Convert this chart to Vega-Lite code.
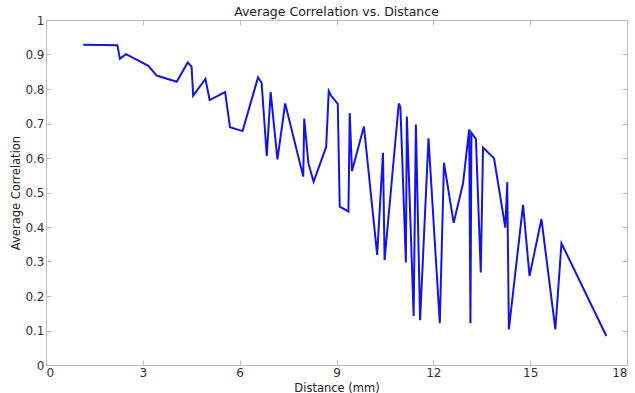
{
  "$schema": "https://vega.github.io/schema/vega-lite/v6.json",
  "autosize": "none",
  "width": 581,
  "height": 345,
  "padding": {"left": 46, "top": 20, "right": 8, "bottom": 28},
  "background": "white",
  "title": {"text": "Average Correlation vs. Distance", "fontSize": 12.5, "fontWeight": "normal", "font": "DejaVu Sans", "color": "#222", "offset": -4},
  "config": {
    "view": {"stroke": "#bbbbbb", "strokeWidth": 1},
    "axis": {"grid": false, "domainColor": "#bbbbbb", "tickColor": "#bbbbbb", "labelFont": "DejaVu Sans", "titleFont": "DejaVu Sans", "labelFontSize": 12, "titleFontSize": 11.5, "labelColor": "#333", "titleColor": "#222", "titleFontWeight": "normal"}
  },
  "data": {"values": [
    {"d": 1.155, "c": 0.928},
    {"d": 2.21, "c": 0.927},
    {"d": 2.29, "c": 0.888},
    {"d": 2.48, "c": 0.901},
    {"d": 3.17, "c": 0.867},
    {"d": 3.43, "c": 0.839},
    {"d": 4.05, "c": 0.821},
    {"d": 4.39, "c": 0.877},
    {"d": 4.51, "c": 0.865},
    {"d": 4.56, "c": 0.781},
    {"d": 4.94, "c": 0.829},
    {"d": 5.07, "c": 0.768},
    {"d": 5.55, "c": 0.791},
    {"d": 5.70, "c": 0.689},
    {"d": 6.09, "c": 0.678},
    {"d": 6.57, "c": 0.834},
    {"d": 6.68, "c": 0.818},
    {"d": 6.84, "c": 0.606},
    {"d": 6.96, "c": 0.791},
    {"d": 7.17, "c": 0.596},
    {"d": 7.41, "c": 0.758},
    {"d": 7.97, "c": 0.546},
    {"d": 8.00, "c": 0.714},
    {"d": 8.13, "c": 0.585},
    {"d": 8.29, "c": 0.531},
    {"d": 8.68, "c": 0.632},
    {"d": 8.76, "c": 0.794},
    {"d": 8.83, "c": 0.781},
    {"d": 9.04, "c": 0.757},
    {"d": 9.10, "c": 0.459},
    {"d": 9.37, "c": 0.445},
    {"d": 9.41, "c": 0.730},
    {"d": 9.48, "c": 0.562},
    {"d": 9.85, "c": 0.691},
    {"d": 10.26, "c": 0.319},
    {"d": 10.44, "c": 0.615},
    {"d": 10.49, "c": 0.304},
    {"d": 10.93, "c": 0.758},
    {"d": 10.98, "c": 0.747},
    {"d": 11.15, "c": 0.297},
    {"d": 11.18, "c": 0.720},
    {"d": 11.39, "c": 0.142},
    {"d": 11.46, "c": 0.697},
    {"d": 11.59, "c": 0.130},
    {"d": 11.85, "c": 0.657},
    {"d": 12.20, "c": 0.121},
    {"d": 12.33, "c": 0.586},
    {"d": 12.63, "c": 0.412},
    {"d": 12.92, "c": 0.526},
    {"d": 13.11, "c": 0.683},
    {"d": 13.15, "c": 0.121},
    {"d": 13.18, "c": 0.673},
    {"d": 13.32, "c": 0.655},
    {"d": 13.47, "c": 0.268},
    {"d": 13.54, "c": 0.630},
    {"d": 13.88, "c": 0.599},
    {"d": 14.23, "c": 0.398},
    {"d": 14.29, "c": 0.530},
    {"d": 14.34, "c": 0.103},
    {"d": 14.78, "c": 0.464},
    {"d": 14.98, "c": 0.258},
    {"d": 15.35, "c": 0.423},
    {"d": 15.78, "c": 0.103},
    {"d": 15.97, "c": 0.353},
    {"d": 17.36, "c": 0.084}
  ]},
  "layer": [
    {
      "mark": {"type": "line", "color": "#1414e6", "strokeWidth": 2},
      "encoding": {
        "x": {"field": "d", "type": "quantitative", "scale": {"domain": [0, 18], "nice": false, "zero": false},
              "axis": {"values": [0, 3, 6, 9, 12, 15, 18], "title": "Distance (mm)", "tickSize": -5, "labelPadding": 7, "titlePadding": 4}},
        "y": {"field": "c", "type": "quantitative", "scale": {"domain": [0, 1], "nice": false},
              "axis": {"values": [0, 0.1, 0.2, 0.3, 0.4, 0.5, 0.6, 0.7, 0.8, 0.9, 1], "format": "~g", "title": "Average Correlation", "tickSize": -5, "labelPadding": 7, "titlePadding": 3}}
      }
    },
    {
      "mark": {"type": "line", "opacity": 0},
      "encoding": {
        "x": {"field": "d", "type": "quantitative", "scale": {"domain": [0, 18], "nice": false, "zero": false},
              "axis": {"orient": "top", "values": [0, 3, 6, 9, 12, 15, 18], "labels": false, "title": null, "tickSize": -5}},
        "y": {"field": "c", "type": "quantitative", "scale": {"domain": [0, 1], "nice": false},
              "axis": {"orient": "right", "values": [0, 0.1, 0.2, 0.3, 0.4, 0.5, 0.6, 0.7, 0.8, 0.9, 1], "labels": false, "title": null, "tickSize": -5}}
      }
    }
  ],
  "resolve": {"axis": {"x": "independent", "y": "independent"}}
}
